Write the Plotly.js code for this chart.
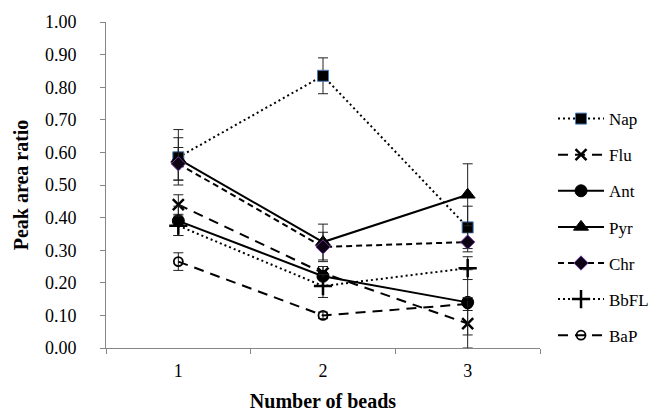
<!DOCTYPE html>
<html>
<head>
<meta charset="utf-8">
<script src="https://cdn.plot.ly/plotly-3.0.1.min.js"></script>
<style>
html,body{margin:0;padding:0;background:#fff}
#chart{width:656px;height:412px}
</style>
</head>
<body>
<div id="chart"></div>
<script>
const beads = ["1", "2", "3"];
const nap = [0.585, 0.835, 0.37];
const napErr = [0.085, 0.055, 0.065];
const flu = [0.44, 0.23, 0.075];
const fluErr = [0.03, 0.02, 0.075];
const ant = [0.39, 0.22, 0.14];
const antErr = [0.045, 0.03, 0.10];
const pyr = [0.58, 0.325, 0.47];
const pyrErr = [0.065, 0.055, 0.095];
const chr = [0.565, 0.31, 0.325];
const chrErr = [0.05, 0.045, 0.03];
const bbfl = [0.375, 0.19, 0.245];
const bbflErr = [0.03, 0.035, 0.035];
const bap = [0.265, 0.10, 0.135];
const bapErr = [0.027, 0.01, 0.02];

const serif = "Liberation Serif, Times New Roman, serif";
function tr(name, y, err, dash, symbol, size, mfill, mline, mlw) {
  return {
    type: "scatter", mode: "lines+markers", name: name, x: beads, y: y,
    legendgroup: name,
    line: {color: "#000", width: 2, dash: dash},
    marker: {symbol: symbol, size: size, color: mfill, line: {color: mline, width: mlw}},
    error_y: {type: "data", array: err, visible: true, color: "#222", thickness: 1, width: 5}
  };
}
const data = [
  tr("Nap", nap, napErr, "2px,3px", "square", 11, "#000", "#4a7ebb", 1),
  tr("Flu", flu, fluErr, "10px,7px", "x-thin", 11, "#000", "#000", 2.5),
  tr("Ant", ant, antErr, "solid", "circle", 12, "#000", "#000", 1),
  tr("Pyr", pyr, pyrErr, "solid", "triangle-up", 13, "#000", "#000", 1),
  tr("Chr", chr, chrErr, "6px,4px", "diamond", 11, "#0d0214", "#6a3a9a", 1),
  tr("BbFL", bbfl, bbflErr, "2px,3px", "cross-thin", 13, "#000", "#000", 2.5),
  tr("BaP", bap, bapErr, "10px,7px", "circle-open", 9, "#000", "#000", 1.8)
];
const layout = {
  width: 656, height: 412,
  margin: {l: 106, r: 116, t: 22, b: 64, autoexpand: false},
  paper_bgcolor: "#fff", plot_bgcolor: "#fff",
  font: {family: serif, color: "#000", size: 18},
  showlegend: true,
  legend: {x: 1.03, xanchor: "left", y: 0.371, yanchor: "middle",
    font: {family: serif, size: 17, color: "#000"}, tracegroupgap: 11, itemwidth: 46},
  xaxis: {
    type: "category", range: [-0.5, 2.5], tickson: "boundaries",
    ticks: "outside", ticklen: 5, tickcolor: "#868686",
    showline: true, linecolor: "#868686", linewidth: 1, showgrid: false, zeroline: false,
    tickfont: {family: serif, size: 18}, ticklabelstandoff: 6,
    title: {text: "<b>Number of beads</b>", font: {family: serif, size: 20}, standoff: 14}
  },
  yaxis: {
    range: [0, 1], dtick: 0.1, tick0: 0, tickformat: ".2f",
    ticks: "outside", ticklen: 5, tickcolor: "#868686",
    showline: true, linecolor: "#868686", linewidth: 1, showgrid: false, zeroline: false,
    tickfont: {family: serif, size: 18}, ticklabelstandoff: 20,
    title: {text: "<b>Peak area ratio</b>", font: {family: serif, size: 20}, standoff: 10}
  }
};
Plotly.newPlot("chart", data, layout, {displayModeBar: false, staticPlot: true});
</script>
</body>
</html>
